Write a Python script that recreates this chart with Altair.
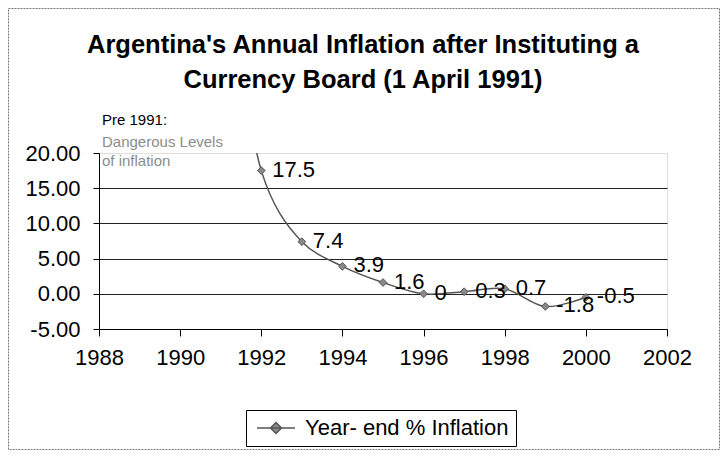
import altair as alt
import pandas as pd

years = [1991, 1992, 1993, 1994, 1995, 1996, 1997, 1998, 1999, 2000]
inflation = [84.0, 17.5, 7.4, 3.9, 1.6, 0.0, 0.3, 0.7, -1.8, -0.5]
series_name = "Year- end % Inflation"
x_ticks = [1988, 1990, 1992, 1994, 1996, 1998, 2000, 2002]
y_ticks = [-5, 0, 5, 10, 15, 20]
title_lines = ["Argentina's Annual Inflation after Instituting a", "Currency Board (1 April 1991)"]

df = pd.DataFrame({"year": years, "value": inflation, "series": [series_name] * len(years)})

SANS = "Liberation Sans, Arial, sans-serif"
FS = 22

W, H = 568, 176
PL, PT, PR, PB = 91, 145, 53, 121

xs = alt.X("year:Q", scale=alt.Scale(domain=[1988, 2002], nice=False, zero=False),
           axis=alt.Axis(values=x_ticks, format="d", title=None, labelFont=SANS,
                         labelFontSize=FS, labelColor="black", labelPadding=11,
                         tickColor="black", tickSize=7, domainColor="black",
                         grid=False, labelFlush=False, labelOverlap=False))
ys = alt.Y("value:Q", scale=alt.Scale(domain=[-5, 20], nice=False, zero=False),
           axis=alt.Axis(values=y_ticks, format=".2f", title=None, labelFont=SANS,
                         labelExpr="replace(datum.label, '\u2212', '-')",
                         labelFontSize=FS, labelColor="black", labelPadding=13,
                         tickColor="black", tickSize=6, domainColor="black",
                         labelOverlap=False, labelFlush=False, labelBound=False,
                         grid=True, gridColor="#222", gridWidth=1,
                         gridOpacity={"condition": {"test": "datum.value >= 20 || datum.value <= -5", "value": 0}, "value": 1}))

color = alt.Color("series:N", scale=alt.Scale(domain=[series_name], range=["#555555"]),
                  legend=alt.Legend(orient="none", legendX=147, legendY=257, title=None,
                                    strokeColor="black", fillColor="white", padding=7,
                                    symbolType="M-1.9,0L1.9,0M0,-0.55L0.55,0L0,0.55L-0.55,0Z",
                                    symbolSize=400, symbolStrokeWidth=1.5, symbolOffset=12,
                                    labelOffset=18,
                                    symbolFillColor="#888888", symbolStrokeColor="#444444",
                                    labelFont=SANS, labelFontSize=FS, labelColor="black",
                                    labelLimit=400))

base = alt.Chart(df)

line = base.mark_line(interpolate="catmull-rom", strokeWidth=1.5, clip=True).encode(
    x=xs, y=ys, color=color)

pts = base.mark_point(shape="diamond", filled=True, size=60, fill="#8a8a8a",
                      stroke="#555555", strokeWidth=1, opacity=1, clip=True).encode(
    x=xs, y=ys)

labels = base.transform_filter("datum.year >= 1992").transform_calculate(
    lbl="toString(datum.value)").mark_text(
    align="left", baseline="middle", dx=11, dy=-1, font=SANS, fontSize=FS,
    color="black").encode(x=xs, y=ys, text="lbl:N")

pre = alt.Chart(pd.DataFrame({"t": ["Pre 1991:"]})).mark_text(
    align="left", baseline="middle", font=SANS, fontSize=15, color="black").encode(
    x=alt.value(3), y=alt.value(-33), text="t:N")
dang = alt.Chart(pd.DataFrame({"t": ["Dangerous Levels"]})).mark_text(
    align="left", baseline="middle", font=SANS, fontSize=15, color="#8c8c8c").encode(
    x=alt.value(3), y=alt.value(-11), text="t:N")
infl = alt.Chart(pd.DataFrame({"t": ["of inflation"]})).mark_text(
    align="left", baseline="middle", font=SANS, fontSize=15, color="#8c8c8c").encode(
    x=alt.value(3), y=alt.value(8), text="t:N")

frame = alt.Chart(pd.DataFrame({"a": [0]})).mark_rect(
    fillOpacity=0, stroke="#777777", strokeWidth=1, strokeDash=[2, 1]).encode(
    x=alt.value(-PL + 0.5), x2=alt.value(W + PR - 0.5),
    y=alt.value(-PT + 0.5), y2=alt.value(H + PB - 0.5))

chart = alt.layer(frame, line, pts, labels, pre, dang, infl).properties(
    width=W, height=H,
    title=alt.TitleParams(
        text=title_lines,
        font=SANS, fontSize=25.5, fontWeight="bold", color="black",
        anchor="middle", frame="group", dx=-20, offset=-85, lineHeight=35),
    autosize=alt.AutoSizeParams(type="none"),
    padding={"left": PL, "top": PT, "right": PR, "bottom": PB},
).configure_view(fill="#cccccc", stroke=None).configure_axis(
    labelOverlap=False).configure(background="white")

chart.save("out.html", embed_options={"renderer": "svg", "actions": False})
